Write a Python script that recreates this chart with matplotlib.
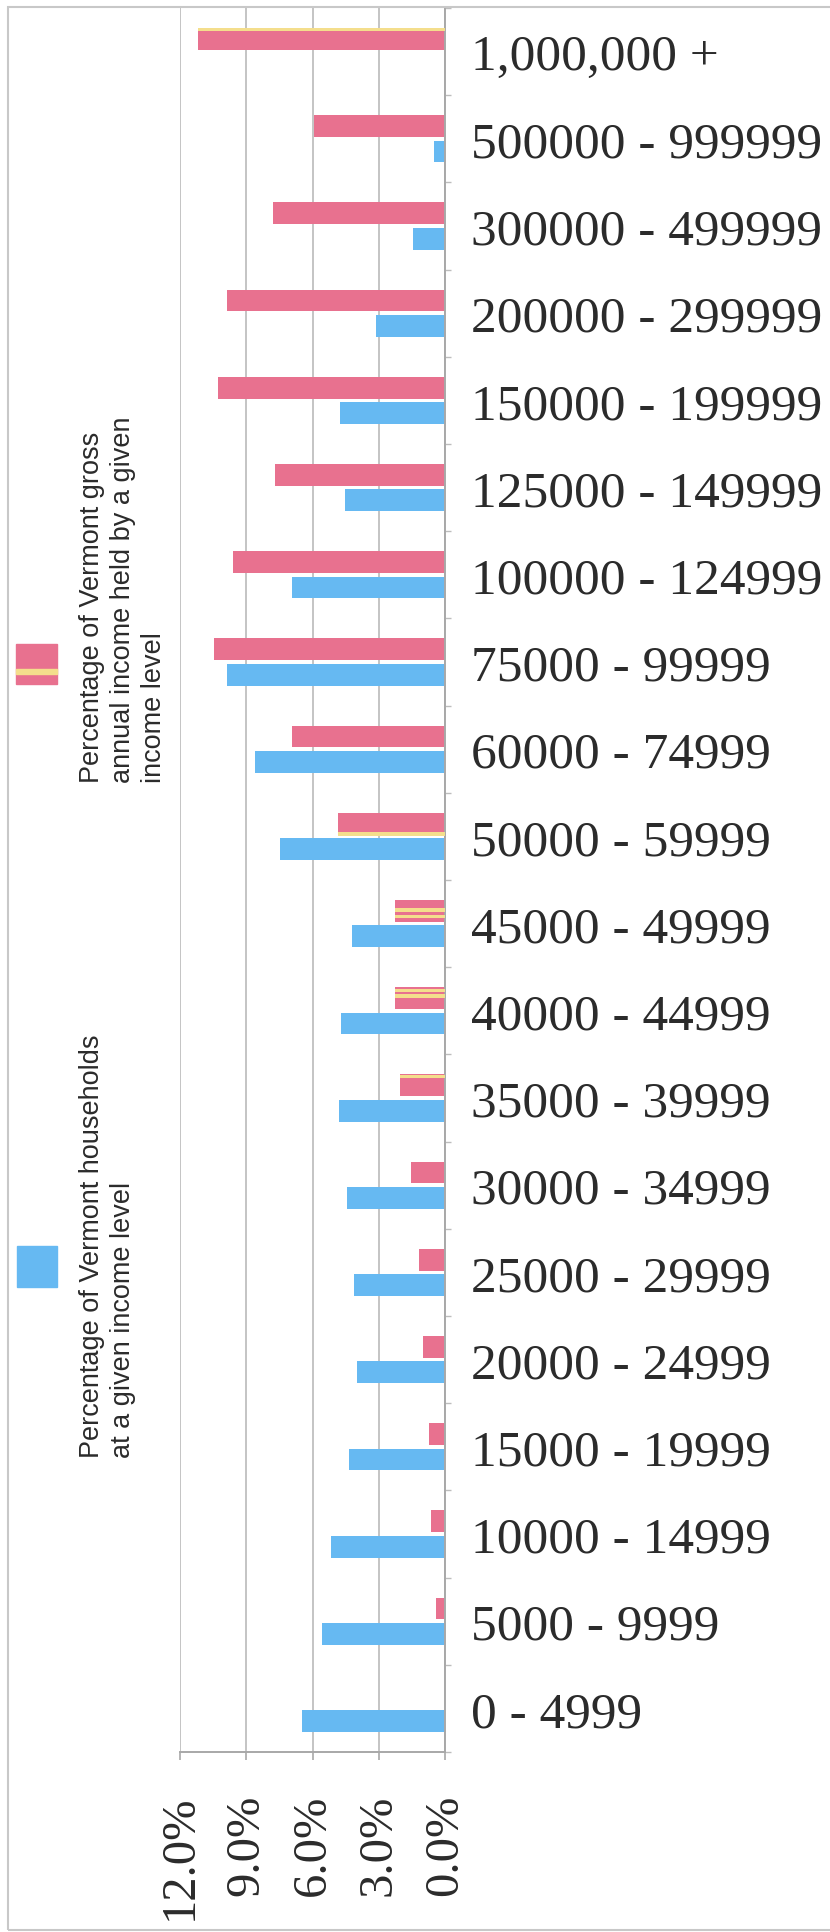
import numpy as np
import matplotlib
matplotlib.use("Agg")
import matplotlib.pyplot as plt
from matplotlib.patches import Rectangle
from matplotlib.ticker import FuncFormatter

# income brackets, lowest first (drawn bottom to top)
income_brackets = [
    "0 - 4999", "5000 - 9999", "10000 - 14999", "15000 - 19999",
    "20000 - 24999", "25000 - 29999", "30000 - 34999", "35000 - 39999",
    "40000 - 44999", "45000 - 49999", "50000 - 59999", "60000 - 74999",
    "75000 - 99999", "100000 - 124999", "125000 - 149999", "150000 - 199999",
    "200000 - 299999", "300000 - 499999", "500000 - 999999", "1,000,000 +",
]

# % of Vermont households in each bracket
households_pct = [6.49, 5.55, 5.18, 4.34, 3.99, 4.11, 4.42, 4.82, 4.70, 4.23,
                  7.49, 8.61, 9.86, 6.93, 4.51, 4.75, 3.11, 1.43, 0.50, 0.0]

# % of Vermont gross annual income held by each bracket
income_share_pct = [0.0, 0.39, 0.63, 0.72, 0.98, 1.17, 1.53, 2.02, 2.25, 2.27,
                    4.85, 6.93, 10.45, 9.60, 7.68, 10.30, 9.86, 7.80, 5.95, 11.20]

x_ticks = [0, 3, 6, 9, 12]

blue_label = "Percentage of Vermont households\nat a given income level"
pink_label = "Percentage of Vermont gross\nannual income held by a given\nincome level"

PINK = "#E8718F"
BLUE = "#66B9F2"
YELLOW = "#F4DE8C"
GRID = "#C4C4C4"
TEXT = "#2B2B2B"

# thin yellow print-registration streaks inside some pink bars (0 = bar bottom, 1 = top)
streaks = {
    "1,000,000 +": [0.93],
    "50000 - 59999": [0.04],
    "45000 - 49999": [0.55, 0.25],
    "40000 - 44999": [0.85, 0.6],
    "35000 - 39999": [0.9],
}

W, H = 830, 1933


def fx(px):
    return px / W


def fy(py):
    return 1 - py / H


fig = plt.figure(figsize=(W / 100, H / 100), dpi=100)
ax = fig.add_axes([fx(180), fy(1753), fx(445) - fx(180), fy(9) - fy(1753)])

y = np.arange(len(income_brackets))
bar_h = 0.25
off = 0.145

ax.barh(y + off, income_share_pct, height=bar_h, color=PINK, zorder=2)
ax.barh(y - off, households_pct, height=bar_h, color=BLUE, zorder=2)

for i, name in enumerate(income_brackets):
    for s in streaks.get(name, []):
        ax.barh(i + off - bar_h / 2 + s * bar_h, income_share_pct[i],
                height=0.04, color=YELLOW, zorder=3)

ax.set_xlim(12, 0)
ax.set_ylim(-0.5, len(income_brackets) - 0.5)

ax.set_xticks(x_ticks)
ax.xaxis.set_major_formatter(FuncFormatter(lambda v, _: f"{v:.1f}%"))
ax.tick_params(axis="x", length=6, width=1.2, color="#A8A8A8", pad=24,
               labelsize=35, labelcolor=TEXT, labelrotation=90)
for lab in ax.get_xticklabels():
    lab.set_family("Liberation Serif")

ax.yaxis.tick_right()
ax.set_yticks(y)
ax.set_yticklabels(income_brackets, family="Liberation Serif", fontsize=37,
                   color=TEXT)
ax.tick_params(axis="y", which="major", length=0, pad=19)
ax.set_yticks(np.arange(-0.5, len(income_brackets), 1), minor=True)
ax.tick_params(axis="y", which="minor", length=4, width=1, color="#BDBDBD",
               direction="out", right=True, left=False)

ax.set_axisbelow(True)
ax.grid(axis="x", color=GRID, lw=1.4)
for side in ("top", "left"):
    ax.spines[side].set_visible(False)
for side in ("right", "bottom"):
    ax.spines[side].set_color("#A8A8A8")
    ax.spines[side].set_linewidth(1.4)

# legend, rotated to run along the left edge
fig.add_artist(Rectangle((fx(16), fy(685)), fx(57) - fx(16), fy(645) - fy(685),
                         transform=fig.transFigure, color=PINK))
fig.add_artist(Rectangle((fx(16), fy(675)), fx(57) - fx(16), fy(670) - fy(675),
                         transform=fig.transFigure, color=YELLOW))
fig.add_artist(Rectangle((fx(17), fy(1288)), fx(57) - fx(17), fy(1247) - fy(1288),
                         transform=fig.transFigure, color=BLUE))

fig.text(fx(79), fy(783), pink_label, rotation=90, ha="left", va="bottom",
         multialignment="left", fontsize=19.5, linespacing=1.25,
         family="Liberation Sans", color=TEXT)
fig.text(fx(79), fy(1458), blue_label, rotation=90, ha="left", va="bottom",
         multialignment="left", fontsize=19.5, linespacing=1.25,
         family="Liberation Sans", color=TEXT)

# chart area border
fig.add_artist(Rectangle((fx(8), fy(1931)), fx(845) - fx(8), fy(8) - fy(1931),
                         transform=fig.transFigure, fill=False,
                         edgecolor="#C8C8C8", lw=1.5))

fig.savefig("out.png", dpi=100)
